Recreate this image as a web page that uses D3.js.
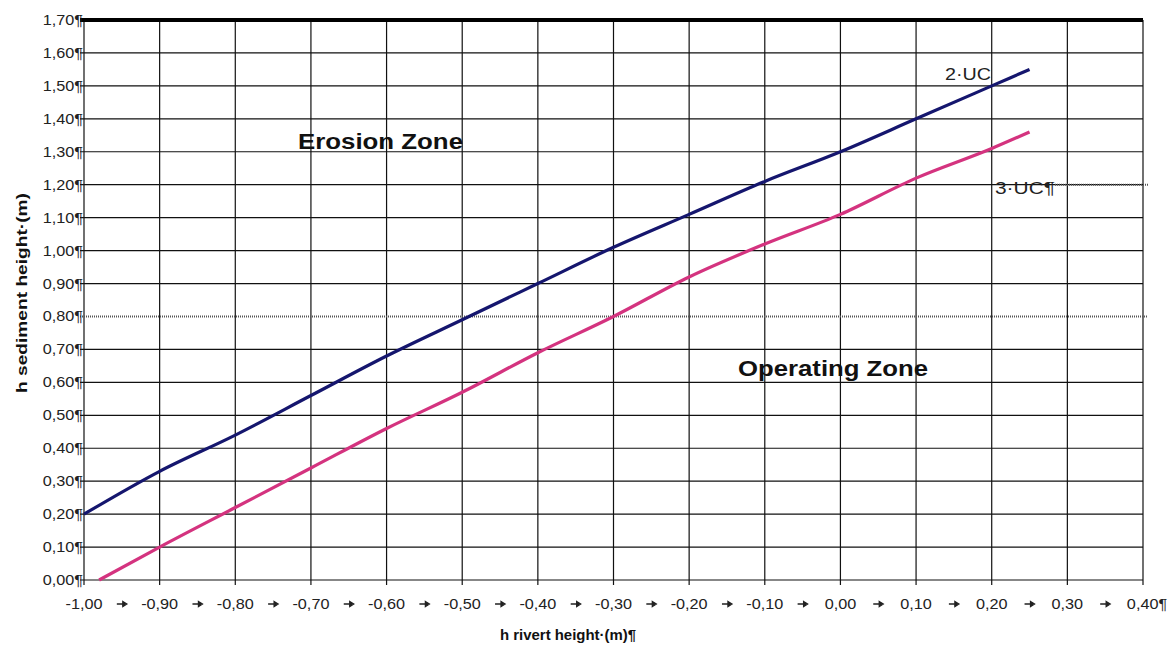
<!DOCTYPE html>
<html><head><meta charset="utf-8">
<script src="https://cdn.jsdelivr.net/npm/d3@7"></script>
<style>body{margin:0;background:#fff;} svg{display:block;font-family:"Liberation Sans",Arial,sans-serif;}</style>
</head><body><svg id="c" width="1173" height="646"></svg>
<script>
// Data
const xTicks = [-1.00,-0.90,-0.80,-0.70,-0.60,-0.50,-0.40,-0.30,-0.20,-0.10,0.00,0.10,0.20,0.30,0.40];
const yTicks = [0.00,0.10,0.20,0.30,0.40,0.50,0.60,0.70,0.80,0.90,1.00,1.10,1.20,1.30,1.40,1.50,1.60,1.70];
const uc2X = [-1.00,-0.90,-0.80,-0.70,-0.60,-0.50,-0.40,-0.30,-0.20,-0.10,0.00,0.10,0.20,0.25];
const uc2Y = [0.20,0.33,0.44,0.56,0.68,0.79,0.90,1.01,1.11,1.21,1.30,1.40,1.50,1.55];
const uc3X = [-0.98,-0.90,-0.80,-0.70,-0.60,-0.50,-0.40,-0.30,-0.20,-0.10,0.00,0.10,0.20,0.25];
const uc3Y = [0.00,0.10,0.22,0.34,0.46,0.57,0.69,0.80,0.92,1.02,1.11,1.22,1.31,1.36];
const fmt = v => v.toFixed(2).replace(".", ",");

const svg = d3.select("#c");
const L = 84, R = 1143, T = 20, B = 580;
const x = d3.scaleLinear().domain([-1.0, 0.4]).range([L, R]);
const y = d3.scaleLinear().domain([0, 1.7]).range([B, T]);
const SX = 1.12;

// grid
const g = svg.append("g");
g.selectAll("line.v").data(xTicks).enter().append("line")
  .attr("x1", d => x(d)).attr("x2", d => x(d)).attr("y1", T).attr("y2", B + 5)
  .attr("stroke", "#111").attr("stroke-width", 1.2);
g.selectAll("line.h").data(yTicks.filter(d => d !== 0.80 && d !== 1.70)).enter().append("line")
  .attr("x1", L - 4).attr("x2", R).attr("y1", d => y(d)).attr("y2", d => y(d))
  .attr("stroke", "#111").attr("stroke-width", 1.2);
g.append("line").attr("x1", L - 4).attr("x2", 1148).attr("y1", y(0.80)).attr("y2", y(0.80))
  .attr("stroke", "#555").attr("stroke-width", 2).attr("stroke-dasharray", "1,1");
g.append("line").attr("x1", 1055).attr("x2", 1148).attr("y1", y(1.20)).attr("y2", y(1.20))
  .attr("stroke", "#555").attr("stroke-width", 2).attr("stroke-dasharray", "1,1");
g.append("line").attr("x1", L - 4).attr("x2", R).attr("y1", y(1.70)).attr("y2", y(1.70))
  .attr("stroke", "#000").attr("stroke-width", 4);

// y tick labels
svg.append("g").selectAll("text").data(yTicks).enter().append("text")
  .attr("transform", d => `translate(${L - 1},${y(d) + 5}) scale(${SX},1)`).attr("text-anchor", "end")
  .attr("font-size", 14.5).attr("fill", "#222").text(d => fmt(d) + "¶");

// x tick labels with arrows
const xl = svg.append("g");
xl.selectAll("text.t").data(xTicks).enter().append("text")
  .attr("transform", d => `translate(${x(d) + (d === 0.40 ? 4 : 0)},609) scale(${SX},1)`).attr("text-anchor", "middle")
  .attr("font-size", 14.5).attr("fill", "#222").text(d => fmt(d) + (d === 0.40 ? "¶" : ""));
const ay = 604;
xl.selectAll("path.a").data(xTicks.slice(0, -1)).enter().append("path")
  .attr("d", d => { const c = x(d + 0.05); return `M${c - 5},${ay}L${c + 1},${ay}M${c + 1},${ay - 2.5}L${c + 5},${ay}L${c + 1},${ay + 2.5}Z`; })
  .attr("stroke", "#222").attr("stroke-width", 1.3).attr("fill", "#222");

// axis titles
svg.append("text").attr("x", 500).attr("y", 640).attr("font-size", 14).attr("font-weight", "bold")
  .attr("fill", "#111").attr("textLength", 136).attr("lengthAdjust", "spacingAndGlyphs").text("h rivert height·(m)¶");
svg.append("text").attr("transform", "translate(27,293) rotate(-90)").attr("text-anchor", "middle")
  .attr("font-size", 15).attr("font-weight", "bold").attr("fill", "#111")
  .attr("textLength", 200).attr("lengthAdjust", "spacingAndGlyphs").text("h sediment height·(m)");

// lines
const line = d3.line().x(d => x(d[0])).y(d => y(d[1])).curve(d3.curveMonotoneX);
svg.append("path").datum(uc2X.map((v, i) => [v, uc2Y[i]])).attr("d", line)
  .attr("fill", "none").attr("stroke", "#15166e").attr("stroke-width", 3.2);
svg.append("path").datum(uc3X.map((v, i) => [v, uc3Y[i]])).attr("d", line)
  .attr("fill", "none").attr("stroke", "#d4337f").attr("stroke-width", 3.2);

// zone labels
svg.append("text").attr("x", 298).attr("y", 149).attr("font-size", 22).attr("font-weight", "bold")
  .attr("fill", "#111").attr("textLength", 165).attr("lengthAdjust", "spacingAndGlyphs").text("Erosion Zone");
svg.append("text").attr("x", 738).attr("y", 376).attr("font-size", 22).attr("font-weight", "bold")
  .attr("fill", "#111").attr("textLength", 190).attr("lengthAdjust", "spacingAndGlyphs").text("Operating Zone");

// series labels
svg.append("text").attr("x", 945).attr("y", 80).attr("font-size", 16).attr("fill", "#222")
  .attr("textLength", 46).attr("lengthAdjust", "spacingAndGlyphs").text("2·UC");
svg.append("text").attr("x", 995).attr("y", 194).attr("font-size", 16).attr("fill", "#222")
  .attr("textLength", 60).attr("lengthAdjust", "spacingAndGlyphs").text("3·UC¶");
</script></body></html>
